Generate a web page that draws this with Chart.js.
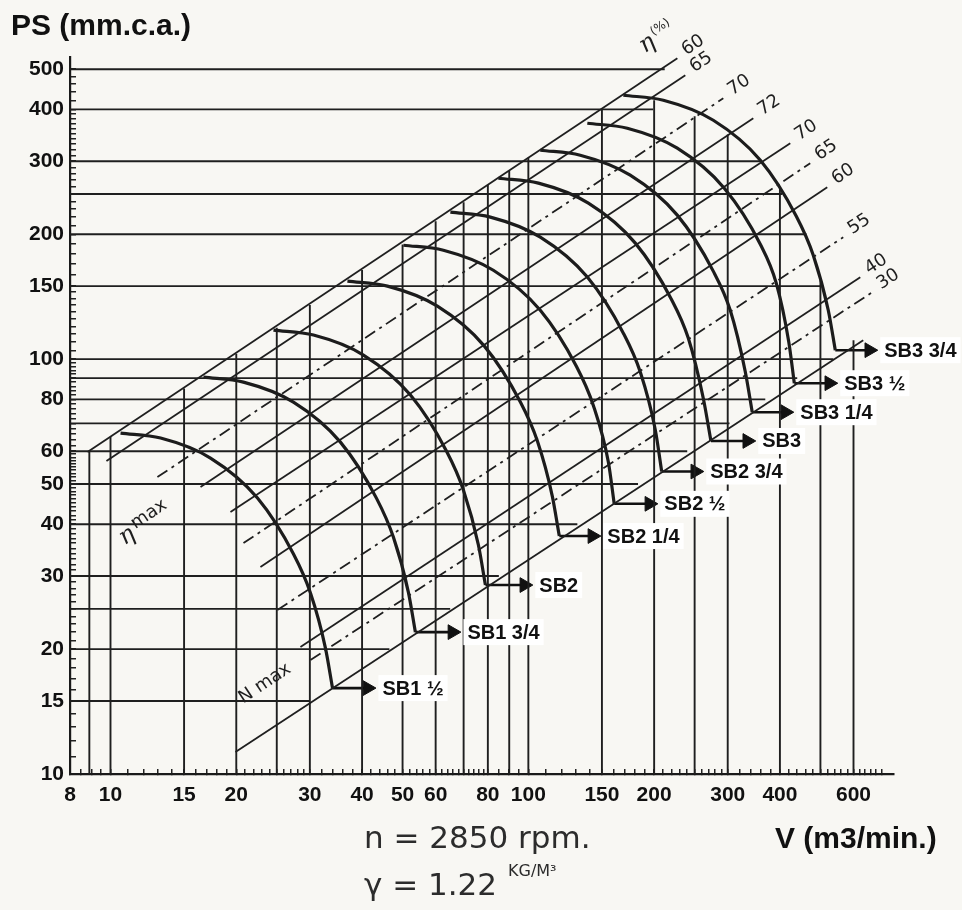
<!DOCTYPE html>
<html>
<head>
<meta charset="utf-8">
<script src="https://cdn.jsdelivr.net/npm/chart.js@4.4.1/dist/chart.umd.min.js"></script>
<style>
  html, body { margin: 0; padding: 0; background: #f8f7f3; }
  canvas { display: block; }
</style>
</head>
<body>
<canvas id="fanChart" width="962" height="910"></canvas>
<script>
// ---- axis ticks ----
const xTicks = [8, 10, 15, 20, 30, 40, 50, 60, 80, 100, 150, 200, 300, 400, 600];
const xMinor = [8.5, 9, 9.5, 11, 12, 13, 14, 16, 17, 18, 19, 21, 22, 23, 24, 25, 26, 27, 28, 29,
  32, 34, 36, 38, 42, 44, 46, 48, 52, 54, 56, 58, 62, 64, 66, 68, 70, 72, 74, 76, 78, 85, 90, 95,
  110, 120, 130, 140, 160, 170, 180, 190, 210, 220, 230, 240, 250, 260, 270, 280, 290,
  320, 340, 360, 380, 420, 440, 460, 480, 500, 520, 540, 560, 580, 620, 640, 660, 680, 700];
const yTicks = [10, 15, 20, 30, 40, 50, 60, 80, 100, 150, 200, 300, 400, 500];
const yMinor = [11, 12, 13, 14, 16, 17, 18, 19, 21, 22, 23, 24, 25, 26, 27, 28, 29,
  31, 32, 33, 34, 35, 36, 37, 38, 39, 41, 42, 43, 44, 45, 46, 47, 48, 49,
  51, 52, 53, 54, 55, 56, 57, 58, 59, 62, 64, 66, 68, 70, 72, 74, 76, 78, 82, 84, 86, 88, 90, 92, 94, 96, 98,
  105, 110, 115, 120, 125, 130, 135, 140, 145, 160, 170, 180, 190, 210, 220, 230, 240, 250, 260, 270, 280, 290,
  310, 320, 330, 340, 350, 360, 370, 380, 390, 420, 440, 460, 480];

// ---- printed grid (clipped like the original paper) ----
const vGridV   = [8.9, 10, 15, 20, 25, 30, 40, 50, 60, 70, 80, 90, 100, 150, 200, 250, 300, 400, 500, 600];
const vGridTop = [60, 65, 85, 103, 119, 135, 164, 189, 215, 239, 263, 284, 306, 402, 421, 385, 348, 258, 155, 111];
const hGridP   = [500, 400, 300, 250, 200, 150, 100, 90, 80, 70, 60, 50, 40, 30, 25, 20, 15];
const hGridEnd = [212, 199, 361, 405, 463, 505, 537, 440, 369, 303, 240, 183, 131, 85, 65, 46.5, 29.9];

// ---- efficiency lines (eta %) ----
const etaLabels = ['60', '65', '70', '72', '70', '65', '60', '55', '40', '30'];
const etaStart = [[8.81, 59.7], [9.78, 56.8], [12.95, 51.96], [16.42, 49.16], [19.37, 42.8],
  [20.81, 36.02], [22.85, 31.54], [25.08, 24.85], [28.48, 20.23], [30.1, 18.83]];
const etaEnd = [[227.3, 531], [237.5, 483.4], [292.8, 425.5], [345.4, 380.8], [423.5, 331.5],
  [472.7, 296.7], [519.2, 259.7], [567, 196.8], [622.8, 157.6], [665.3, 145]];
const etaDashed = [false, false, true, false, false, true, false, true, false, true];
const nMaxLine = [[19.91, 11.3], [633.1, 111.1]];

// ---- fan curves ----
const curveNames = ['SB1 ½', 'SB1 3/4', 'SB2', 'SB2 1/4', 'SB2 ½', 'SB2 3/4', 'SB3', 'SB3 1/4', 'SB3 ½', 'SB3 3/4'];
const curveV = [
  [10.57, 13.18, 17.35, 22.48, 27.41, 30.10, 32.69, 33.99],
  [16.69, 20.80, 27.40, 35.50, 43.29, 47.53, 51.62, 53.66],
  [24.55, 30.60, 40.30, 52.22, 63.67, 69.91, 75.94, 78.93],
  [36.90, 46.00, 60.58, 78.49, 95.70, 105.1, 114.1, 118.6],
  [50.23, 62.61, 82.46, 106.8, 130.3, 143.0, 155.4, 160.5],
  [65.07, 81.11, 106.8, 138.4, 168.8, 185.3, 201.3, 208.5],
  [84.77, 105.7, 139.2, 180.3, 219.9, 241.4, 262.2, 273.5],
  [106.8, 133.1, 175.3, 227.2, 277.0, 304.1, 330.3, 343.4],
  [138.4, 172.5, 227.2, 294.4, 359.0, 392.0, 420.0, 433.0],
  [168.8, 210.4, 277.1, 359.1, 437.8, 480.7, 522.1, 542.7]
];
const curveP = [
  [66.33, 64.53, 57.75, 46.25, 33.90, 27.30, 20.12, 16.11],
  [90.49, 88.03, 78.78, 63.10, 46.24, 37.25, 27.45, 21.98],
  [117.5, 114.3, 102.3, 81.93, 60.04, 48.36, 35.64, 28.54],
  [154.2, 150.0, 134.2, 107.5, 78.80, 63.47, 46.77, 37.46],
  [188.2, 183.1, 163.8, 131.2, 96.17, 77.46, 56.5, 44.8],
  [226.1, 220.0, 196.8, 157.7, 115.5, 93.06, 67.5, 53.6],
  [273.0, 265.6, 237.7, 190.4, 139.5, 112.4, 80.5, 63.5],
  [318.9, 310.2, 277.6, 222.4, 163.0, 131.3, 93.5, 74.5],
  [370.4, 360.3, 322.5, 258.3, 189.3, 152.5, 110.0, 87.5],
  [432.6, 420.8, 376.6, 301.7, 221.1, 178.1, 131.2, 105.1]
];
const arrowTipV = [41.2, 65.8, 97.8, 142.3, 194.8, 250.9, 334.1, 412, 525, 654.4];

// ---- build datasets ----
const INK = '#1f1f1f';
const datasets = [];

vGridV.forEach((v, i) => {
  datasets.push({ data: [{ x: v, y: 10 }, { x: v, y: vGridTop[i] }], borderColor: INK, borderWidth: 1.9 });
});
hGridP.forEach((p, i) => {
  datasets.push({ data: [{ x: 8, y: p }, { x: hGridEnd[i], y: p }], borderColor: INK, borderWidth: 1.9 });
});
etaStart.forEach((s, i) => {
  datasets.push({
    data: [{ x: s[0], y: s[1] }, { x: etaEnd[i][0], y: etaEnd[i][1] }],
    borderColor: INK, borderWidth: 1.8,
    borderDash: etaDashed[i] ? [12, 5, 3, 5] : []
  });
});
datasets.push({
  data: nMaxLine.map(p => ({ x: p[0], y: p[1] })), borderColor: INK, borderWidth: 1.8
});
curveV.forEach((vs, i) => {
  datasets.push({
    data: vs.map((v, k) => ({ x: v, y: curveP[i][k] })),
    borderColor: '#1c1c1c', borderWidth: 3.2, cubicInterpolationMode: 'monotone'
  });
});
// arrows to curve names
curveV.forEach((vs, i) => {
  const pEnd = curveP[i][curveP[i].length - 1];
  datasets.push({
    data: [{ x: vs[vs.length - 1], y: pEnd }, { x: arrowTipV[i], y: pEnd }],
    borderColor: '#111', borderWidth: 2.6,
    pointRadius: [0, 8.5], pointStyle: 'triangle', rotation: 90,
    pointBackgroundColor: '#111', pointBorderColor: '#111', pointBorderWidth: 1,
    clip: false
  });
});

// ---- text layer ----
const textPlugin = {
  id: 'chartText',
  afterDatasetsDraw(chart) {
    const { ctx } = chart;
    const xs = chart.scales.x, ys = chart.scales.y;
    const px = v => xs.getPixelForValue(v);
    const py = v => ys.getPixelForValue(v);
    ctx.save();

    // eta labels along the line direction
    ctx.fillStyle = '#1e1e1e';
    ctx.font = '18px "DejaVu Sans"';
    ctx.textBaseline = 'middle';
    ctx.textAlign = 'left';
    etaLabels.forEach((lab, i) => {
      const x1 = px(etaStart[i][0]), y1 = py(etaStart[i][1]);
      const x2 = px(etaEnd[i][0]), y2 = py(etaEnd[i][1]);
      const a = Math.atan2(y2 - y1, x2 - x1);
      ctx.save();
      ctx.translate(x2, y2);
      ctx.rotate(a);
      ctx.fillText(lab, 9, -2);
      ctx.restore();
    });
    const a0 = Math.atan2(py(etaEnd[0][1]) - py(etaStart[0][1]), px(etaEnd[0][0]) - px(etaStart[0][0]));

    // eta (%) heading
    ctx.save();
    ctx.translate(px(etaEnd[0][0]) - 36, py(etaEnd[0][1]) - 10);
    ctx.rotate(a0);
    ctx.font = 'italic 24px "DejaVu Serif"';
    ctx.fillText('η', 0, 0);
    ctx.font = '12px "DejaVu Sans"';
    ctx.fillText('(%)', 17, -7);
    ctx.restore();

    // eta max / N max
    ctx.save();
    ctx.translate(px(10.6), py(36.6));
    ctx.rotate(a0);
    ctx.font = 'italic 24px "DejaVu Serif"';
    ctx.fillText('η', 0, 0);
    ctx.font = '18px "DejaVu Sans"';
    ctx.fillText('max', 18, -6);
    ctx.restore();

    ctx.save();
    ctx.translate(px(20.5), py(15.1));
    ctx.rotate(a0);
    ctx.font = '18px "DejaVu Sans"';
    ctx.fillText('N max', 0, 0);
    ctx.restore();

    // curve names
    ctx.font = 'bold 20px "Liberation Sans", Arial, sans-serif';
    curveNames.forEach((name, i) => {
      const pEnd = curveP[i][curveP[i].length - 1];
      const tx = px(arrowTipV[i]) + 15, ty = py(pEnd);
      const w = ctx.measureText(name).width;
      ctx.fillStyle = '#ffffff';
      ctx.fillRect(tx - 4, ty - 13, w + 8, 26);
      ctx.fillStyle = '#111';
      ctx.fillText(name, tx, ty + 1);
    });

    // axis titles
    ctx.fillStyle = '#111';
    ctx.textBaseline = 'alphabetic';
    ctx.font = 'bold 30px "Liberation Sans", Arial, sans-serif';
    ctx.fillText('PS (mm.c.a.)', 11, 35);
    ctx.fillText('V (m3/min.)', 775, 848);

    // operating conditions
    ctx.fillStyle = '#2c2c2c';
    ctx.font = '31px "DejaVu Sans"';
    ctx.fillText('n = 2850 rpm.', 364, 848);
    ctx.fillText('γ = 1.22', 364, 895);
    ctx.font = '16px "DejaVu Sans"';
    ctx.fillText('KG/M³', 508, 876);
    ctx.restore();
  }
};

const tickFont = { family: '"Liberation Sans", Arial, sans-serif', size: 21, weight: 'bold' };

new Chart(document.getElementById('fanChart'), {
  type: 'scatter',
  data: { datasets: datasets },
  options: {
    responsive: false,
    animation: false,
    devicePixelRatio: 1,
    events: [],
    showLine: true,
    elements: { point: { radius: 0 }, line: { tension: 0 } },
    layout: { padding: { left: 0, right: 68, top: 57, bottom: 106 } },
    plugins: { legend: { display: false }, tooltip: { enabled: false } },
    scales: {
      x: {
        type: 'logarithmic', min: 8, max: 750,
        afterBuildTicks: axis => {
          axis.ticks = xTicks.concat(xMinor).sort((a, b) => a - b).map(v => ({ value: v }));
        },
        afterFit: axis => { axis.height = 30; },
        ticks: {
          autoSkip: false, maxRotation: 0, padding: 14, color: '#111', font: tickFont,
          callback: v => xTicks.includes(v) ? String(v) : ''
        },
        grid: { drawOnChartArea: false, drawTicks: true, tickLength: -5, color: '#222', lineWidth: 1.5 },
        border: { display: true, color: '#1a1a1a', width: 2.2 }
      },
      y: {
        type: 'logarithmic', min: 10, max: 535,
        afterBuildTicks: axis => {
          axis.ticks = yTicks.concat(yMinor).sort((a, b) => a - b).map(v => ({ value: v }));
        },
        afterFit: axis => { axis.width = 70; },
        ticks: {
          autoSkip: false, padding: 12, color: '#111', font: tickFont,
          callback: v => yTicks.includes(v) ? String(v) : ''
        },
        grid: { drawOnChartArea: false, drawTicks: true, tickLength: -6, color: '#222', lineWidth: 1.5 },
        border: { display: true, color: '#1a1a1a', width: 2.2 }
      }
    }
  },
  plugins: [textPlugin]
});
</script>
</body>
</html>
